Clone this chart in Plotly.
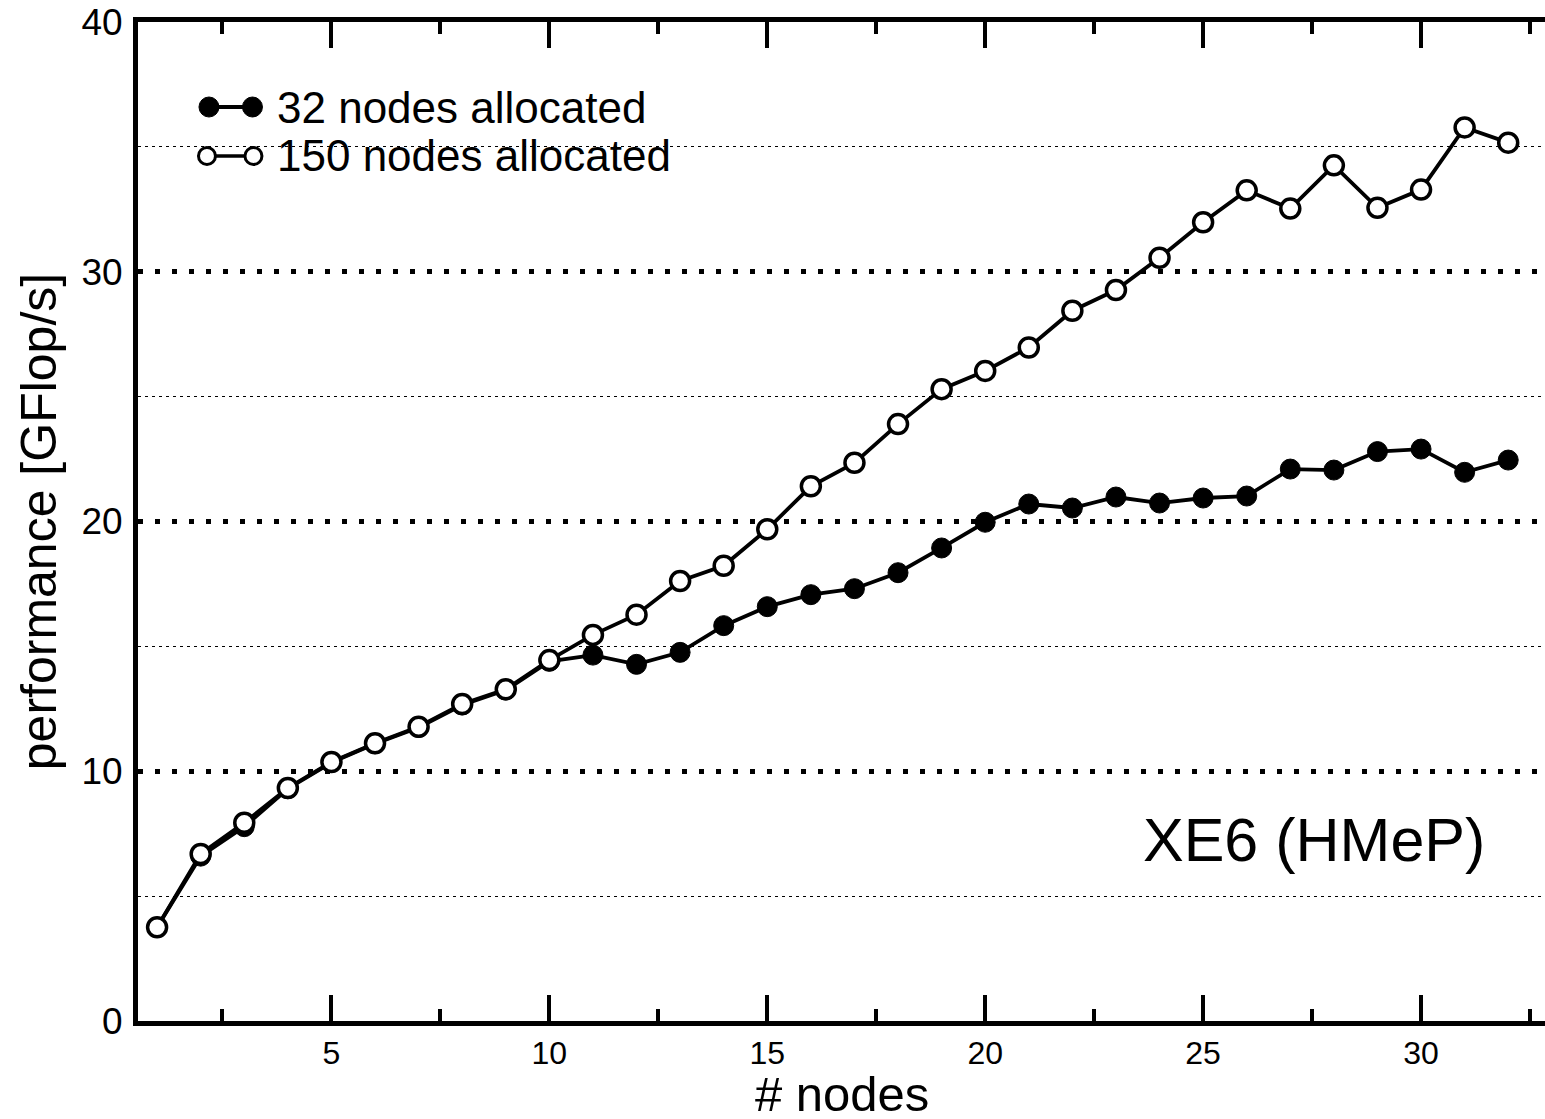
import plotly.graph_objects as go

nodes = list(range(1, 33))
perf_32 = [3.75, 6.6, 7.78, 9.3, 10.35, 11.1, 11.75, 12.65, 13.25, 14.4,
           14.65, 14.28, 14.76, 15.83, 16.59, 17.07, 17.31, 17.95, 18.94, 19.97,
           20.70, 20.54, 20.98, 20.74, 20.94, 21.02, 22.1, 22.06, 22.8, 22.9,
           21.97, 22.46]
perf_150 = [3.75, 6.69, 7.94, 9.33, 10.37, 11.12, 11.78, 12.69, 13.28, 14.45,
            15.46, 16.27, 17.62, 18.23, 19.69, 21.41, 22.35, 23.9, 25.3, 26.03,
            26.97, 28.44, 29.27, 30.56, 31.98, 33.26, 32.53, 34.26, 32.56, 33.29,
            35.78, 35.17]
series_names = ["32 nodes allocated", "150 nodes allocated"]
x_tickvals = [5, 10, 15, 20, 25, 30]
x_minor_tickvals = [2.5, 7.5, 12.5, 17.5, 22.5, 27.5, 32.5]
y_tickvals = [0, 10, 20, 30, 40]
y_minor_gridvals = [5, 15, 25, 35]
x_title = "# nodes"
y_title = "performance [GFlop/s]"

W, H = 1545, 1119
L, R, T, B = 137.5, 0, 22, 98
FONT = "Liberation Sans, Arial, Helvetica, sans-serif"
X_PX_PER_UNIT = 43.6
X0_PX = 113  # page pixel of x = 0


def px(xp):
    return (xp - L) / (W - L - R)


def py(yp):
    return (H - B - yp) / (H - T - B)


x_lo = (L - X0_PX) / X_PX_PER_UNIT
x_hi = (W - R - X0_PX) / X_PX_PER_UNIT

fig = go.Figure()
fig.add_trace(go.Scatter(
    x=nodes, y=perf_32, mode="lines+markers", name=series_names[0],
    line=dict(color="black", width=3.8),
    marker=dict(symbol="circle", size=20, color="black",
                line=dict(color="black", width=1)),
    showlegend=False))
fig.add_trace(go.Scatter(
    x=nodes, y=perf_150, mode="lines+markers", name=series_names[1],
    line=dict(color="black", width=3.8),
    marker=dict(symbol="circle", size=19, color="white",
                line=dict(color="black", width=3.5)),
    showlegend=False))

shapes = []
shapes.append(dict(type="rect", xref="paper", yref="paper",
                   x0=px(180), x1=px(683), y0=py(180), y1=py(82),
                   fillcolor="white", line=dict(width=0), layer="between"))
shapes.append(dict(type="line", xref="paper", yref="paper",
                   x0=px(208), x1=px(252), y0=py(107), y1=py(107),
                   line=dict(color="black", width=4), layer="above"))
for cx in (208.5, 252):
    shapes.append(dict(type="circle", xref="paper", yref="paper",
                       x0=px(cx - 10), x1=px(cx + 10), y0=py(117), y1=py(97),
                       fillcolor="black", line=dict(color="black", width=1),
                       layer="above"))
shapes.append(dict(type="line", xref="paper", yref="paper",
                   x0=px(207), x1=px(253), y0=py(156), y1=py(156),
                   line=dict(color="black", width=3.5), layer="above"))
for cx in (206.5, 253):
    shapes.append(dict(type="circle", xref="paper", yref="paper",
                       x0=px(cx - 8.5), x1=px(cx + 8.5), y0=py(164.5), y1=py(147.5),
                       fillcolor="white", line=dict(color="black", width=3),
                       layer="above"))

annotations = [
    dict(text=series_names[0], xref="paper", yref="paper", x=px(275), y=py(108),
         xanchor="left", yanchor="middle", showarrow=False,
         font=dict(family=FONT, size=44, color="black")),
    dict(text=series_names[1], xref="paper", yref="paper", x=px(275), y=py(156),
         xanchor="left", yanchor="middle", showarrow=False,
         font=dict(family=FONT, size=44, color="black")),
    dict(text="XE6 (HMeP)", xref="paper", yref="paper", x=px(1314), y=py(840),
         xanchor="center", yanchor="middle", showarrow=False,
         font=dict(family=FONT, size=61, color="black")),
    dict(text=x_title, xref="paper", yref="paper", x=px(842), y=py(1094),
         xanchor="center", yanchor="middle", showarrow=False,
         font=dict(family=FONT, size=49, color="black")),
]

fig.update_layout(
    width=W, height=H,
    margin=dict(l=L, r=R, t=T, b=B, pad=0),
    paper_bgcolor="white", plot_bgcolor="white",
    font=dict(family=FONT, color="black"),
    shapes=shapes, annotations=annotations,
    showlegend=False,
)
fig.update_xaxes(
    range=[x_lo, x_hi], automargin=False,
    tickvals=x_tickvals, ticktext=[str(v) for v in x_tickvals],
    ticks="inside", ticklen=26, tickwidth=3.5, tickcolor="black",
    showline=True, linewidth=5, linecolor="black", mirror="ticks",
    showgrid=False, zeroline=False,
    tickfont=dict(family=FONT, size=32, color="black"),
    minor=dict(tickvals=x_minor_tickvals, ticks="inside", ticklen=12,
               tickwidth=3.5, tickcolor="black", showgrid=False),
)
fig.update_yaxes(
    range=[-0.001, 40.001], automargin=False, tickvals=y_tickvals,
    ticktext=[str(v) for v in y_tickvals],
    ticks="", showline=True, linewidth=5, linecolor="black", mirror=False,
    showgrid=True, gridcolor="black", gridwidth=5, griddash="5px,12px",
    zeroline=False, ticklabelstandoff=3,
    tickfont=dict(family=FONT, size=37, color="black"),
    minor=dict(tickvals=y_minor_gridvals, showgrid=True, gridcolor="black",
               gridwidth=1.3, griddash="3px,4px", ticks=""),
    title=dict(text=y_title,
               font=dict(family=FONT, size=50, color="black"), standoff=10),
)

fig.write_html(
    "out.html",
    config={"displayModeBar": False},
    post_script="document.body.style.margin='0';document.body.style.overflow='hidden';",
)
